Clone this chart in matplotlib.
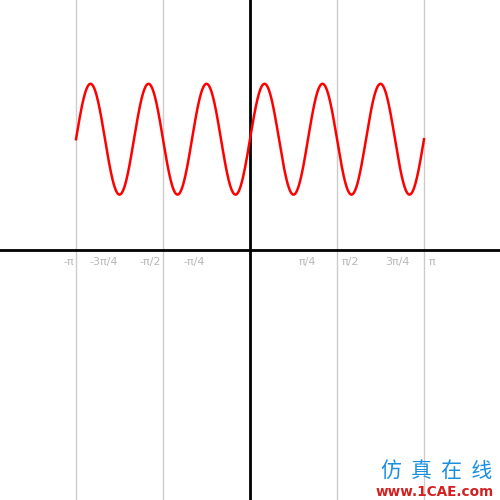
import numpy as np
import matplotlib.pyplot as plt

# curve: y = sin(6x) + 2 on [-pi, pi]
freq = 6
offset = 2
x = np.linspace(-np.pi, np.pi, 1200)
y = np.sin(freq * x) + offset

tick_pos = [-np.pi, -3*np.pi/4, -np.pi/2, -np.pi/4, np.pi/4, np.pi/2, 3*np.pi/4, np.pi]
tick_labels = ['-π', '-3π/4', '-π/2', '-π/4', 'π/4', 'π/2', '3π/4', 'π']
grid_pos = [-np.pi, -np.pi/2, np.pi/2, np.pi]

fig = plt.figure(figsize=(5, 5), dpi=100)
ax = fig.add_axes([0, 0, 1, 1])
lim = 250 / 174 * np.pi
ax.set_xlim(-lim, lim)
ax.set_ylim(-250 / 55.4, 250 / 55.4)

for g in grid_pos:
    ax.axvline(g, color='#cccccc', lw=1, zorder=1)
ax.axhline(0, color='black', lw=2, zorder=2)
ax.axvline(0, color='black', lw=2, zorder=2)

ax.plot(x, y, color='red', lw=1.8, zorder=3)

for p, lab in zip(tick_pos, tick_labels):
    if p < 0:
        ax.text(p - 0.03, -0.22, lab, ha='right', va='center', color='#b8b8b8',
                fontsize=8, family='DejaVu Sans')
    else:
        ax.text(p + 0.09, -0.22, lab, ha='left', va='center', color='#b8b8b8',
                fontsize=8, family='DejaVu Sans')

for s in ax.spines.values():
    s.set_visible(False)
ax.set_xticks([])
ax.set_yticks([])

# watermark
fig.text(0.874, 0.057, '仿  真  在  线', ha='center', va='center', color='#1a8fe0',
         fontsize=15, family=['Noto Sans CJK SC', 'DejaVu Sans'])
fig.text(0.870, 0.016, 'www.1CAE.com', ha='center', va='center', color='#d42020',
         fontsize=9.8, weight='bold', family='DejaVu Sans')

fig.savefig('out.png', dpi=100)
